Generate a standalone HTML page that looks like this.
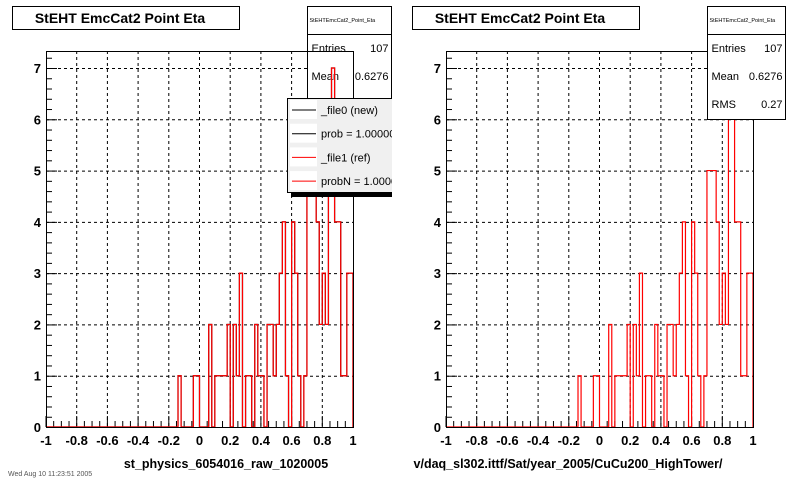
<!DOCTYPE html>
<html><head><meta charset="utf-8"><style>
html,body{margin:0;padding:0;background:#fff;}
svg{display:block;font-family:"Liberation Sans",Arial,sans-serif;}
</style></head><body>
<svg id="c" width="800" height="480" viewBox="0 0 800 480" xmlns="http://www.w3.org/2000/svg">
<defs><clipPath id="clipL"><rect x="0" y="0" width="392" height="480"/></clipPath></defs>
<rect x="0" y="0" width="800" height="480" fill="#fff"/>
<g id="padL" clip-path="url(#clipL)"></g>
<g id="padR"></g>
</svg>
<script>
// Histogram data: 100 bins over [-1, 1]
const binLow = -1, binHigh = 1, nBins = 100;
const filledBins = [43,48,49,53,55,56,57,58,59,61,62,63,65,66,68,69,70,72,73,74,75,76,77,78,80,81,82,84,85,86,87,88,89,90,91,92,93,94,95,96,97,98,99];
const binCounts  = [ 1, 1, 1, 2, 1, 1, 1, 1, 2, 2, 1, 3, 1, 1, 2, 1, 1, 2, 2, 1, 2, 3, 4, 1, 4, 3, 1, 1, 5, 5, 5, 4, 2, 3, 2, 6, 7, 4, 4, 1, 1, 3, 3];
const xTicks = [-1,-0.8,-0.6,-0.4,-0.2,0,0.2,0.4,0.6,0.8,1];
const xTickLabels = ["-1","-0.8","-0.6","-0.4","-0.2","0","0.2","0.4","0.6","0.8","1"];
const yTicks = [0,1,2,3,4,5,6,7];
const yTickLabels = ["0","1","2","3","4","5","6","7"];
const statsLabels = ["Entries","Mean","RMS"];
const statsValues = ["107","0.6276","0.27"];

const NS = "http://www.w3.org/2000/svg";
function mk(tag, attrs, parent){const e=document.createElementNS(NS,tag);for(const k in attrs)e.setAttribute(k,attrs[k]);parent.appendChild(e);return e;}

const counts = new Array(nBins).fill(0);
filledBins.forEach((b,i)=>{counts[b]=binCounts[i];});

function drawPad(g, ox, xtitle, isLeft){
  const fx0 = ox+46, fx1 = ox+353, fy0 = 51, fy1 = 427;
  const X = v => fx0 + (v - binLow)/(binHigh-binLow)*(fx1-fx0);
  const Y = v => fy1 - v*(fy1-68)/7;

  const tb = mk('rect',{x:ox+12.5,y:6.5,width:227,height:23,fill:'#fff',stroke:'#000','stroke-width':1},g);
  
  
  const tt = mk('text',{x:ox+120,y:23,'text-anchor':'middle','font-size':14,'font-weight':'bold'},g);
  tt.textContent='StEHT EmcCat2 Point Eta';
  
  

  xTicks.forEach(v=>{ if(v>-1&&v<1){const l=mk('line',{x1:X(v),x2:X(v),y1:fy0,y2:fy1,stroke:'#000','stroke-dasharray':'3,3','stroke-width':1},g);
    
    }});
  yTicks.forEach(v=>{ if(v>0){const l=mk('line',{x1:fx0,x2:fx1,y1:Y(v)+0.5,y2:Y(v)+0.5,stroke:'#000','stroke-dasharray':'3,3','stroke-width':1},g);
    
    }});

  for(let i=0;i<=40;i++){const v=-1+i*0.05;const major=i%4===0;
    const t=mk('line',{x1:X(v),x2:X(v),y1:fy1,y2:fy1-(major?11:6),stroke:'#000'},g);
    
    }
  for(let i=0;i<=36;i++){const v=i*0.2;const major=i%5===0;
    const t=mk('line',{x1:fx0,x2:fx0+(major?11:6),y1:Y(v)+0.5,y2:Y(v)+0.5,stroke:'#000'},g);
    
    }
  xTicks.forEach((v,i)=>{const t=mk('text',{x:X(v),y:445,'text-anchor':'middle','font-size':13,'font-weight':'bold'},g);
    t.textContent=xTickLabels[i];
    
    });
  yTicks.forEach((v,i)=>{const t=mk('text',{x:ox+41,y:Y(v)+5,'text-anchor':'end','font-size':13,'font-weight':'bold'},g);
    t.textContent=yTickLabels[i];
    
    });

  function statsBox(){
    const sb=mk('g',{},g);
    
    
    const bx = ox+307.5, bw = isLeft? 84 : 78;
    mk('rect',{x:bx,y:6.5,width:bw,height:isLeft?100:113,fill:'#fff',stroke:'#000'},sb);
    mk('line',{x1:bx,x2:bx+bw,y1:34.5,y2:34.5,stroke:'#000'},sb);
    const st=mk('text',{x:bx+2,y:22,'font-size':5.5},sb); st.textContent='StEHTEmcCat2_Point_Eta';
    const n = isLeft?2:3;
    for(let i=0;i<n;i++){
      const a=mk('text',{x:bx+4,y:52+i*28,'font-size':11},sb); a.textContent=statsLabels[i];
      const b=mk('text',{x:bx+bw-3,y:52+i*28,'font-size':11,'text-anchor':'end'},sb); b.textContent=statsValues[i];
    }
  }

  function histPath(color,name){
    let d=`M${X(binLow)},${Y(0)}`;
    const w=(binHigh-binLow)/nBins;
    for(let i=0;i<nBins;i++){const lo=binLow+i*w, hi=lo+w;d+=` L${X(lo)},${Y(counts[i])} L${X(hi)},${Y(counts[i])}`;}
    d+=` L${X(binHigh)},${Y(0)}`;
    const p=mk('path',{d:d,fill:'none',stroke:color,'stroke-width':1.2},g);
    
    
  }

  if(isLeft) statsBox();
  if(isLeft) histPath('#000','histogram-new');
  histPath('#f00','histogram-ref');

  const fr=mk('rect',{x:fx0+0.5,y:fy0+0.5,width:fx1-fx0,height:fy1-fy0,fill:'none',stroke:'#000'},g);
  
  

  if(!isLeft) statsBox();

  if(isLeft){
    const lg=mk('g',{},g);
    
    
    mk('rect',{x:291,y:101,width:109,height:96,fill:'#000'},lg);
    mk('rect',{x:287.5,y:98.5,width:110,height:94,fill:'#f0f0f0',stroke:'#000'},lg);
    const items=[['_file0 (new)','#000'],['prob = 1.000000','#000'],['_file1 (ref)','#f00'],['probN = 1.000000','#f00']];
    items.forEach((it,i)=>{const yy=110+i*23.7;
      const e=mk('g',{},lg);
      
      
      mk('rect',{x:290,y:yy-10,width:27,height:19,fill:'#fff'},e);
      mk('line',{x1:292,x2:316,y1:yy,y2:yy,stroke:it[1]},e);
      const t=mk('text',{x:321,y:yy+4,'font-size':11},e); t.textContent=it[0];});
  }

  const xt=mk('text',{x:isLeft?ox+226:ox+168,y:468,'text-anchor':'middle','font-size':12.5,'font-weight':'bold'},g);
  xt.textContent=xtitle;
  
  
}

drawPad(document.getElementById('padL'),0,'st_physics_6054016_raw_1020005',true);
drawPad(document.getElementById('padR'),400,'v/daq_sl302.ittf/Sat/year_2005/CuCu200_HighTower/',false);
const dt=mk('text',{x:8,y:476,'font-size':7,fill:'#555'},document.getElementById('c'));
dt.textContent='Wed Aug 10 11:23:51 2005';


</script>
</body></html>
